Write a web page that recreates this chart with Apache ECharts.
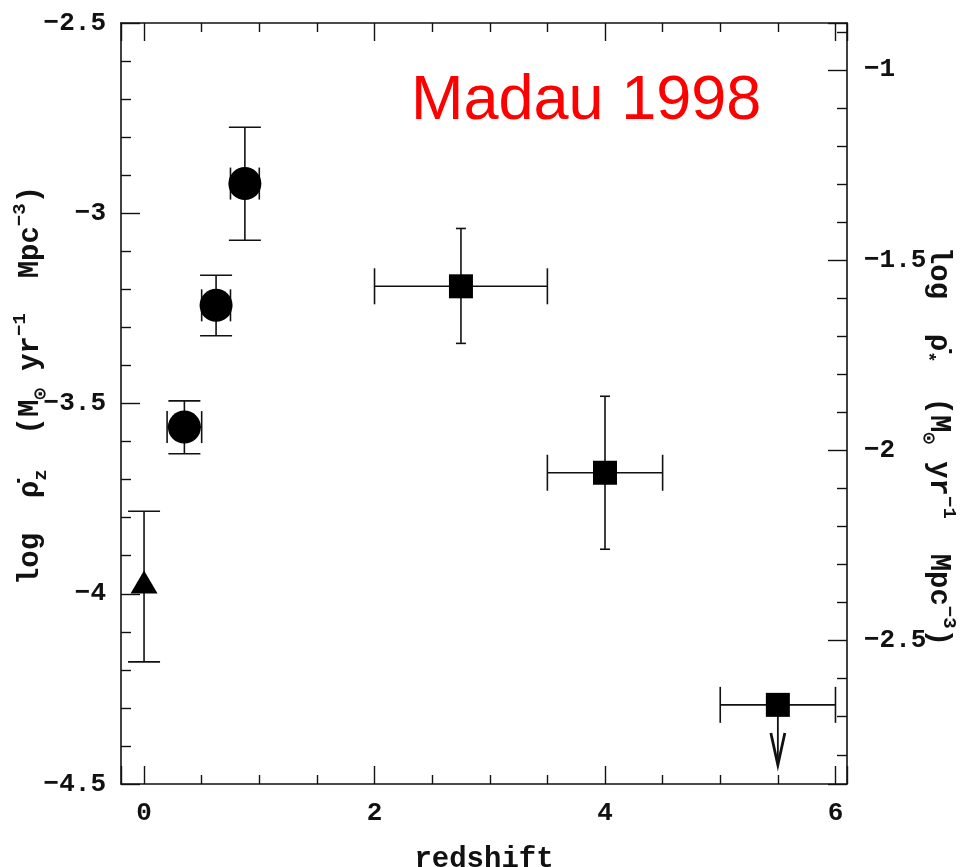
<!DOCTYPE html>
<html><head><meta charset="utf-8">
<script src="https://cdn.jsdelivr.net/npm/echarts@6/dist/echarts.min.js"></script>
<style>html,body{margin:0;padding:0;background:#fff}#c{width:961px;height:867px}</style>
</head><body><div id="c"></div>
<script>
// ---------------- data ----------------
const circleZ       = [0.35, 0.625, 0.875];
const circleLogRho  = [-3.562, -3.242, -2.922];
const circleZLow    = [0.2, 0.5, 0.75];
const circleZHigh   = [0.5, 0.75, 1.0];
const circleErrLow  = [-3.632, -3.322, -3.071];
const circleErrHigh = [-3.493, -3.163, -2.774];

const triangleZ       = [0];
const triangleLogRho  = [-3.969];
const triangleErrLow  = [-4.179];
const triangleErrHigh = [-3.783];

const squareZ       = [2.75, 4.0, 5.5];
const squareLogRho  = [-3.192, -3.682, -4.292];
const squareZLow    = [2.0, 3.5, 5.0];
const squareZHigh   = [3.5, 4.5, 6.0];
const squareErrLow  = [-3.342, -3.883, null];
const squareErrHigh = [-3.040, -3.481, null];

const limitZ    = [5.5];
const limitFrom = [-4.292];
const limitTo   = [-4.450];

const xTickLabels     = ['0', '2', '4', '6'];
const leftTickLabels  = ['−4.5', '−4', '−3.5', '−3', '−2.5'];
const rightTickLabels = ['−2.5', '−2', '−1.5', '−1'];
const logRatio = Math.log10(42); // right axis = left axis + log10(42)

// ---------------- styles ----------------
const INK = '#111';
const FONT = '"Liberation Mono", "DejaVu Sans Mono", monospace';
const LBL = 26;

function fmt(v, list) {
  const s = String(+v.toFixed(3)).replace('-', '−');
  return list.includes(s) ? s : '';
}

function xAxisCfg(pos, showLabel) {
  return {
    type: 'value', position: pos, min: -0.2, max: 6.1, splitNumber: 3,
    axisLine: { show: true, onZero: false, lineStyle: { color: INK, width: 1.6 } },
    axisTick: { show: true, inside: true, length: 18, lineStyle: { color: INK, width: 1.4 } },
    minorTick: { show: true, splitNumber: 4, length: 9, lineStyle: { color: INK, width: 1.4 } },
    splitLine: { show: false },
    axisLabel: { show: showLabel, margin: 16, color: INK, fontFamily: FONT, fontSize: LBL,
      fontWeight: 'bold', formatter: v => fmt(v, xTickLabels) },
    name: showLabel ? 'redshift' : '', nameLocation: 'middle', nameGap: 61, nameMoveOverlap: false,
    nameTextStyle: { color: INK, fontFamily: FONT, fontSize: 29, fontWeight: 'bold' }
  };
}

const richName = {
  m:   { fontFamily: FONT, fontSize: 29, color: INK, lineHeight: 40, fontWeight: 'bold' },
  sub: { fontFamily: FONT, fontSize: 19, color: INK, lineHeight: 22, verticalAlign: 'bottom', fontWeight: 'bold' },
  sup: { fontFamily: FONT, fontSize: 19, color: INK, lineHeight: 22, verticalAlign: 'top', fontWeight: 'bold' }
};

function yAxisCfg(pos, min, max, labels, name, rot, gap, pad) {
  const cfg = {
    type: 'value', position: pos, min: min, max: max,
    axisLine: { show: true, onZero: false, lineStyle: { color: INK, width: 1.6 } },
    axisTick: { show: true, inside: true, length: 19, lineStyle: { color: INK, width: 1.4 } },
    minorTick: { show: true, splitNumber: 5, length: 10, lineStyle: { color: INK, width: 1.4 } },
    splitLine: { show: false },
    axisLabel: { margin: pos === 'left' ? 15 : 17, color: INK, fontFamily: FONT, fontSize: LBL,
      fontWeight: 'bold', formatter: v => fmt(v, labels) },
    name: name, nameLocation: 'middle', nameRotate: rot, nameGap: gap, nameMoveOverlap: false,
    nameTextStyle: { rich: richName, padding: pad }
  };
  if (pos === 'left') cfg.interval = 0.5; else cfg.splitNumber = 4;
  return cfg;
}

function errorRender(capV, capH) {
  return function (params, api) {
    const x = api.value(0), y = api.value(1);
    const xl = api.value(2), xh = api.value(3), yl = api.value(4), yh = api.value(5);
    const st = { stroke: INK, lineWidth: 1.6 };
    const ch = [];
    const L = (x1, y1, x2, y2) => ch.push({ type: 'line', shape: { x1, y1, x2, y2 }, style: st });
    if (isFinite(yl) && isFinite(yh)) {
      const a = api.coord([x, yl]), b = api.coord([x, yh]);
      L(a[0], a[1], b[0], b[1]);
      L(a[0] - capV, a[1], a[0] + capV, a[1]);
      L(b[0] - capV, b[1], b[0] + capV, b[1]);
    }
    if (isFinite(xl) && isFinite(xh)) {
      const a = api.coord([xl, y]), b = api.coord([xh, y]);
      L(a[0], a[1], b[0], b[1]);
      L(a[0], a[1] - capH, a[0], a[1] + capH);
      L(b[0], b[1] - capH, b[0], b[1] + capH);
    }
    return { type: 'group', children: ch };
  };
}

const nn = v => (v === null || v === undefined) ? NaN : v;
const circleErr = circleZ.map((z, i) => [z, circleLogRho[i], circleZLow[i], circleZHigh[i], circleErrLow[i], circleErrHigh[i]]);
const triangleErr = triangleZ.map((z, i) => [z, triangleLogRho[i], NaN, NaN, triangleErrLow[i], triangleErrHigh[i]]);
const squareErr = squareZ.map((z, i) => [z, squareLogRho[i], squareZLow[i], squareZHigh[i], nn(squareErrLow[i]), nn(squareErrHigh[i])]);
const limitData = limitZ.map((z, i) => [z, limitFrom[i], limitTo[i]]);

const markStyle = { color: '#000', opacity: 1 };

const chart = echarts.init(document.getElementById('c'), null, { renderer: 'canvas' });
chart.setOption({
  backgroundColor: '#fff',
  animation: false,
  grid: { left: 121, right: 114, top: 23, bottom: 83, outerBoundsMode: 'none' },
  xAxis: [xAxisCfg('bottom', true), xAxisCfg('top', false)],
  yAxis: [
    yAxisCfg('left', -4.5, -2.5, leftTickLabels,
      '{m|log  ρ\u0307}{sub|z}{m|  (M}{sub|⊙}{m| yr}{sup|−1}{m|  Mpc}{sup|−3}{m|)}', 90, 70, [0, 0, 0, 36]),
    yAxisCfg('right', -4.5 + logRatio, -2.5 + logRatio, rightTickLabels,
      '{m|log  ρ\u0307}{sub|*}{m|  (M}{sub|⊙}{m| yr}{sup|−1}{m|  Mpc}{sup|−3}{m|)}', -90, 71, [0, 0, 0, 86])
  ],
  graphic: [{
    type: 'text', x: 411, y: 102, silent: true,
    style: { text: 'Madau 1998', fill: '#ff0000', fontFamily: '"Liberation Sans", Arial, sans-serif',
      fontSize: 63, align: 'left', verticalAlign: 'middle' }
  }],
  series: [
    { type: 'custom', name: 'circleErr', xAxisIndex: 0, yAxisIndex: 0, clip: false,
      encode: { x: 0, y: 1 }, data: circleErr, renderItem: errorRender(16, 16), z: 2 },
    { type: 'custom', name: 'triangleErr', xAxisIndex: 0, yAxisIndex: 0, clip: false,
      encode: { x: 0, y: 1 }, data: triangleErr, renderItem: errorRender(16, 16), z: 2 },
    { type: 'custom', name: 'squareErr', xAxisIndex: 0, yAxisIndex: 0, clip: false,
      encode: { x: 0, y: 1 }, data: squareErr, renderItem: errorRender(5, 18), z: 2 },
    { type: 'custom', name: 'upperLimit', xAxisIndex: 0, yAxisIndex: 0, clip: false,
      encode: { x: 0, y: 1 }, data: limitData, z: 2,
      renderItem: function (params, api) {
        const a = api.coord([api.value(0), api.value(1)]);
        const b = api.coord([api.value(0), api.value(2)]);
        return { type: 'group', children: [
          { type: 'line', shape: { x1: a[0], y1: a[1], x2: b[0], y2: b[1] }, style: { stroke: INK, lineWidth: 1.8 } },
          { type: 'polyline', shape: { points: [[b[0] - 7, b[1] - 32], [b[0], b[1]], [b[0] + 7, b[1] - 32]] },
            style: { stroke: INK, lineWidth: 2.8, fill: null } }
        ] };
      } },
    { type: 'scatter', name: 'circles', symbol: 'circle', symbolSize: 33, z: 3,
      itemStyle: markStyle, data: circleZ.map((z, i) => [z, circleLogRho[i]]) },
    { type: 'scatter', name: 'triangle', symbol: 'triangle', symbolSize: [27, 23], z: 3,
      itemStyle: markStyle, data: triangleZ.map((z, i) => [z, triangleLogRho[i]]) },
    { type: 'scatter', name: 'squares', symbol: 'rect', symbolSize: 24, z: 3,
      itemStyle: markStyle, data: squareZ.map((z, i) => [z, squareLogRho[i]]) }
  ]
});
</script></body></html>
